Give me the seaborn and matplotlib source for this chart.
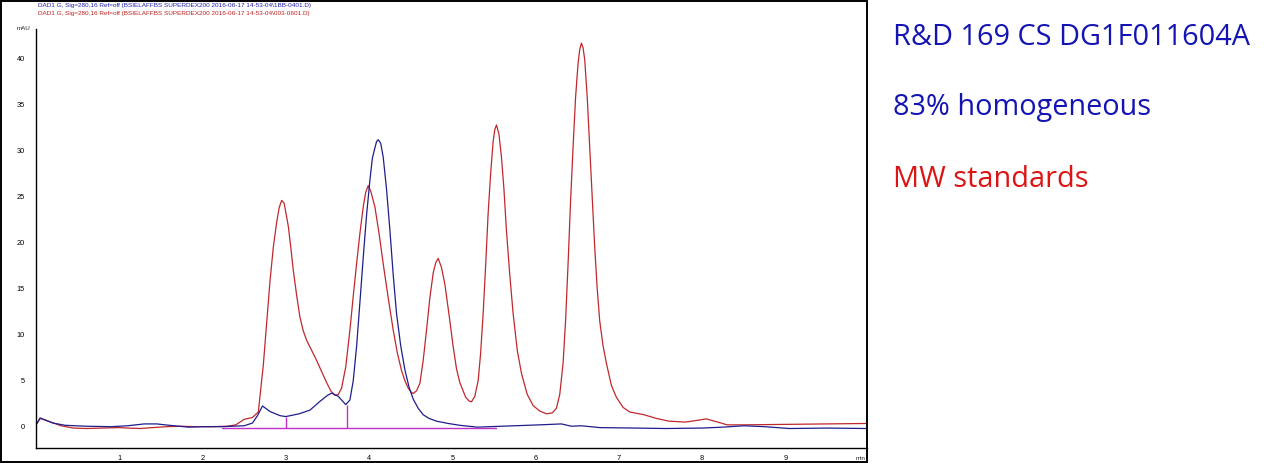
import numpy as np
import pandas as pd
import matplotlib
matplotlib.use("Agg")
import matplotlib.pyplot as plt
from matplotlib.patches import Rectangle
from matplotlib.ticker import MultipleLocator
import seaborn as sns

# ---- data ----
red_time = [0.0, 0.05, 0.15, 0.3, 0.45, 0.6, 0.8, 1.0, 1.1, 1.25, 1.4, 1.57, 1.75, 1.9,
            2.1, 2.3, 2.4, 2.5, 2.6, 2.67, 2.73, 2.77, 2.81, 2.85, 2.89, 2.92, 2.95, 2.98,
            3.03, 3.06, 3.09, 3.13, 3.17, 3.21, 3.25, 3.31, 3.37, 3.43, 3.49, 3.54, 3.59,
            3.63, 3.67, 3.72, 3.77, 3.81, 3.85, 3.89, 3.93, 3.96, 3.99, 4.02, 4.07, 4.12,
            4.17, 4.23, 4.29, 4.34, 4.39, 4.43, 4.47, 4.5, 4.53, 4.57, 4.61, 4.65, 4.69,
            4.73, 4.77, 4.80, 4.83, 4.87, 4.91, 4.96, 5.01, 5.05, 5.09, 5.16, 5.20, 5.23,
            5.27, 5.31, 5.34, 5.37, 5.40, 5.43, 5.46, 5.49, 5.51, 5.53, 5.56, 5.59, 5.62,
            5.65, 5.69, 5.73, 5.78, 5.83, 5.90, 5.97, 6.05, 6.13, 6.20, 6.25, 6.29, 6.33,
            6.36, 6.39, 6.42, 6.45, 6.48, 6.51, 6.53, 6.55, 6.57, 6.59, 6.62, 6.65, 6.68,
            6.71, 6.74, 6.77, 6.81, 6.85, 6.91, 6.97, 7.05, 7.13, 7.3, 7.45, 7.6, 7.8,
            7.95, 8.05, 8.15, 8.3, 8.5, 9.0, 9.5, 9.98]
red_mau = [0.2, 0.9, 0.6, 0.1, -0.15, -0.2, -0.15, -0.1, -0.15, -0.2, -0.1, 0.0, 0.05, 0.0,
           0.0, 0.05, 0.2, 0.8, 1.0, 1.6, 6.7, 11.2, 15.8, 19.5, 22.2, 23.8, 24.6, 24.3,
           21.8, 19.5, 17.0, 14.3, 11.9, 10.4, 9.4, 8.3, 7.2, 6.0, 4.8, 3.9, 3.4,
           3.5, 4.2, 6.5, 10.5, 14.2, 17.7, 21.0, 23.9, 25.5, 26.2, 25.6, 23.9, 21.0,
           17.7, 14.0, 10.5, 8.0, 6.1, 5.0, 4.2, 3.8, 3.6, 3.9, 4.7, 7.2, 10.5,
           14.0, 16.7, 17.8, 18.3, 17.3, 15.5, 12.2, 8.7, 6.3, 4.8, 3.2, 2.8, 2.7,
           3.3, 5.0, 8.0, 12.3, 17.5, 23.2, 27.5, 31.0, 32.3, 32.8, 31.8, 29.3, 25.8,
           21.3, 16.5, 12.3, 8.3, 5.8, 3.5, 2.3, 1.7, 1.4, 1.5, 2.0, 3.5, 6.9,
           11.5, 17.7, 24.5, 30.4, 35.8, 39.5, 41.0, 41.7, 41.2, 39.9, 35.8, 30.4, 24.8,
           19.5, 15.0, 11.5, 8.8, 6.9, 4.5, 3.2, 2.1, 1.6, 1.3, 0.9, 0.6, 0.5,
           0.7, 0.85, 0.6, 0.2, 0.2, 0.25, 0.3, 0.35]

blue_time = [0.0, 0.05, 0.2, 0.35, 0.6, 0.9, 1.1, 1.3, 1.45, 1.6, 1.83, 2.0, 2.23, 2.5,
             2.6, 2.66, 2.72, 2.81, 2.93, 3.0, 3.16, 3.29, 3.41, 3.5, 3.55, 3.63, 3.68,
             3.72, 3.77, 3.81, 3.85, 3.89, 3.93, 3.97, 4.01, 4.04, 4.07, 4.09, 4.11,
             4.14, 4.17, 4.21, 4.25, 4.29, 4.33, 4.38, 4.43, 4.48, 4.53, 4.59, 4.65,
             4.72, 4.81, 4.95, 5.09, 5.3, 5.6, 6.05, 6.31, 6.43, 6.55, 6.77, 7.2, 7.57,
             8.0, 8.25, 8.5, 8.75, 9.05, 9.5, 9.98]
blue_mau = [0.2, 0.95, 0.4, 0.15, 0.05, 0.0, 0.1, 0.3, 0.3, 0.15, -0.05, 0.0, 0.0, 0.1,
            0.4, 1.2, 2.25, 1.65, 1.2, 1.1, 1.4, 1.8, 2.75, 3.4, 3.65, 3.3, 2.8,
            2.4, 2.9, 5.0, 8.7, 13.5, 18.4, 23.0, 26.8, 29.2, 30.3, 31.0, 31.2,
            30.8, 29.3, 25.8, 21.4, 16.5, 12.3, 8.8, 6.2, 4.3, 3.0, 2.0, 1.3,
            0.9, 0.6, 0.35, 0.15, -0.05, 0.05, 0.2, 0.3, 0.05, 0.1, -0.1, -0.15, -0.2,
            -0.15, -0.05, 0.1, 0.0, -0.2, -0.15, -0.2]

baseline_time = [2.23, 5.53]
baseline_mau = [-0.17, -0.17]
drop_time = [3.0, 3.73]
drop_top = [1.1, 2.4]

header_lines = [
    r"DAD1 G, Sig=280,16 Ref=off (BSIELAFFBS SUPERDEX200 2016-06-17 14-53-04\1BB-0401.D)",
    r"DAD1 G, Sig=280,16 Ref=off (BSIELAFFBS SUPERDEX200 2016-06-17 14-53-04\003-0601.D)",
]
annotations = ["R&D 169 CS DG1F011604A", "83% homogeneous", "MW standards"]

# ---- styling ----
sns.set_theme(style="white")
plt.rcParams["font.family"] = ["Liberation Sans", "DejaVu Sans"]

BLUE = "#1e1e8c"
RED = "#c0282d"
MAGENTA = "#c030c8"

W, H = 1276, 463
fig = plt.figure(figsize=(W / 100, H / 100), dpi=100)
fig.patch.set_facecolor("white")

ax_left, ax_right, ax_bottom, ax_top = 36, 867, 448.3, 29.3
ax = fig.add_axes([ax_left / W, (H - ax_bottom) / H,
                   (ax_right - ax_left) / W, (ax_bottom - ax_top) / H])
ax.set_facecolor("white")

red_df = pd.DataFrame({"time": red_time, "mAU": red_mau})
blue_df = pd.DataFrame({"time": blue_time, "mAU": blue_mau})

sns.lineplot(data=red_df, x="time", y="mAU", ax=ax, color=RED, lw=0.9,
             sort=False, estimator=None)
sns.lineplot(data=blue_df, x="time", y="mAU", ax=ax, color=BLUE, lw=0.9,
             sort=False, estimator=None)

# integration baseline and drop lines
ax.plot(baseline_time, baseline_mau, color=MAGENTA, lw=1.0)
ax.vlines(drop_time, baseline_mau[0], drop_top, color=MAGENTA, lw=1.0)

ax.set_xlim(0, 9.98)
ax.set_ylim(-2.35, 43.2)
ax.set_xlabel("")
ax.set_ylabel("")

for s in ["top", "right"]:
    ax.spines[s].set_visible(False)
for s in ["left", "bottom"]:
    ax.spines[s].set_color("black")
    ax.spines[s].set_linewidth(1.0)

ax.xaxis.set_minor_locator(MultipleLocator(0.2))
ax.yaxis.set_minor_locator(MultipleLocator(1))
ax.set_xticks([1, 2, 3, 4, 5, 6, 7, 8, 9])
ax.set_yticks([0, 5, 10, 15, 20, 25, 30, 35, 40])
ax.tick_params(axis="both", which="both", direction="out", colors="black",
               labelsize=5.3, width=0.8)
ax.tick_params(axis="x", which="major", length=4, pad=1)
ax.tick_params(axis="x", which="minor", length=3)
ax.tick_params(axis="y", which="major", length=3, pad=5)
ax.tick_params(axis="y", which="minor", length=2)
ax.grid(False)

# unit labels
fig.text(30 / W, 1 - 29 / H, "mAU", fontsize=4.5, ha="right", va="center")
fig.text(866 / W, 1 - 458 / H, "min", fontsize=4.5, ha="right", va="center")

# header lines
hdr_family = ["Liberation Sans Narrow", "Liberation Sans", "DejaVu Sans"]
fig.text(38 / W, 1 - 5.5 / H, header_lines[0], fontsize=4.6, color="#2020b0",
         ha="left", va="center", family=hdr_family)
fig.text(38 / W, 1 - 14 / H, header_lines[1], fontsize=4.6, color="#c02020",
         ha="left", va="center", family=hdr_family)

# right-hand annotations
ann_colors = ["#1414b4", "#1414b4", "#dc1414"]
ann_baselines = [45, 115, 187]
for txt, col, yb in zip(annotations, ann_colors, ann_baselines):
    fig.text(893 / W, 1 - yb / H, txt, fontsize=20.8, color=col, ha="left",
             va="baseline", family=["Open Sans", "DejaVu Sans"])

# frame around the chromatogram image
fig.patches.append(Rectangle((0.5 / W, 0.8 / H), 866.5 / W, (H - 1.5) / H,
                             transform=fig.transFigure, fill=False,
                             edgecolor="black", lw=1.4))

fig.savefig("out.png", dpi=100, facecolor="white")
